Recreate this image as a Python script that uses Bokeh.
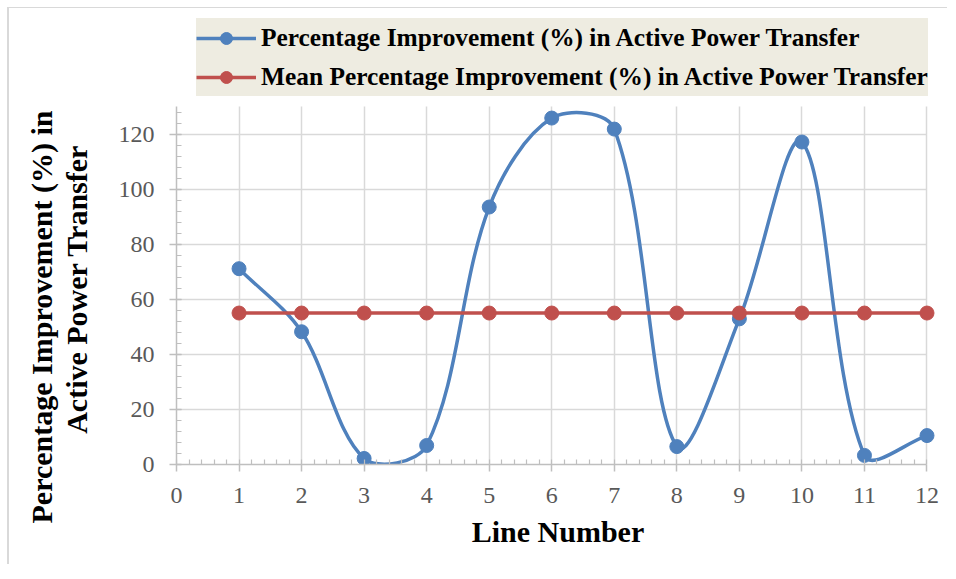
import math
import numpy as np
from bokeh.plotting import figure
from bokeh.models import Range1d, SingleIntervalTicker, Legend, LegendItem, Title
from bokeh.embed import file_html
from bokeh.resources import INLINE

# ---------------- data ----------------
line_numbers = [1, 2, 3, 4, 5, 6, 7, 8, 9, 10, 11, 12]
improvement = [71.1, 48.2, 2.2, 6.9, 93.5, 125.8, 121.8, 6.5, 52.9, 117.1, 3.3, 10.5]
mean_improvement = [55.0, 55.0, 55.0, 55.0, 55.0, 55.0, 55.0, 55.0, 55.0, 55.0, 55.0, 55.0]
series_labels = ["Percentage Improvement (%) in Active Power Transfer",
                 "Mean Percentage Improvement (%) in Active Power Transfer"]
x_title = "Line Number"
y_title_lines = ["Percentage Improvement (%) in", "Active Power Transfer"]

# ---------------- style ----------------
BLUE = "#4f81bd"
RED = "#c0504d"
AXIS_C = "#bfbfbf"
GRID_C = "#d9d9d9"
FONT = "Liberation Serif"
X_END = 12.2
Y_AX_END = 130
PX_PER_Y = 358 / 130
FH = 450
Y_END = FH / PX_PER_Y          # frame extends above the axis to hold the legend
FW = 763

p = figure(frame_width=FW, frame_height=FH,
           x_range=Range1d(0, X_END), y_range=Range1d(0, Y_END),
           output_backend="svg", toolbar_location=None,
           min_border_left=167, min_border_top=6, min_border_right=8,
           min_border_bottom=100,
           background_fill_color="white", border_fill_color="white")
p.margin = (7, 0, 0, 7)
p.styles = {"border-left": "2px solid #d9d9d9", "border-top": "1px solid #d9d9d9"}
p.outline_line_color = None

xt = SingleIntervalTicker(interval=1, num_minor_ticks=5)
yt = SingleIntervalTicker(interval=20, num_minor_ticks=5)
xa = p.xaxis[0]
ya = p.yaxis[0]
xa.ticker = xt
ya.ticker = yt
p.xgrid[0].ticker = xt
p.ygrid[0].ticker = yt
xa.bounds = (0, 12)
ya.bounds = (0, Y_AX_END)
p.ygrid[0].bounds = (0, Y_AX_END)
p.xgrid[0].bounds = (0, 12)
for g in (p.xgrid[0], p.ygrid[0]):
    g.grid_line_color = GRID_C
    g.grid_line_width = 1.5
p.ygrid[0].cross_bounds = (0, 12)
p.xgrid[0].cross_bounds = (0, Y_AX_END)

for ax in (xa, ya):
    ax.axis_line_color = AXIS_C
    ax.axis_line_width = 1.5
    ax.major_tick_line_color = AXIS_C
    ax.major_tick_line_width = 1.5
    ax.minor_tick_line_color = AXIS_C
    ax.minor_tick_line_width = 1.2
    ax.major_tick_out = 7
    ax.minor_tick_out = 0
    ax.minor_tick_in = 5
    ax.major_label_text_font = FONT
    ax.major_label_text_font_size = "24px"
    ax.major_label_text_color = "#595959"
    ax.axis_label_text_font = FONT
    ax.axis_label_text_font_size = "30px"
    ax.axis_label_text_font_style = "bold"
    ax.axis_label_text_color = "black"
xa.major_tick_in = 0
ya.major_tick_in = 5
xa.major_label_standoff = 16
ya.major_label_standoff = 15
xa.axis_label = x_title
xa.axis_label_standoff = 9
# tiny spacer label to set the distance of the title from the tick labels
ya.axis_label = " "
ya.axis_label_text_font_size = "1px"
ya.axis_label_standoff = 19

# y title: two lines, each its own title (closest to the axis added first)
t2 = Title(text=y_title_lines[1], align="right", offset=130, vertical_align="bottom",
           text_font=FONT, text_font_size="30px", text_font_style="bold",
           text_color="black", standoff=0, text_line_height=1.07)
t1 = Title(text=y_title_lines[0], align="right", offset=96, vertical_align="bottom",
           text_font=FONT, text_font_size="30px", text_font_style="bold",
           text_color="black", standoff=0, text_line_height=1.07)
p.add_layout(t2, "left")
p.add_layout(t1, "left")

# ---------------- smoothed (Excel-like) curve ----------------
sx = FW / X_END
sy = PX_PER_Y
PX = np.array(line_numbers, float) * sx
PY = np.array(improvement, float) * sy
n = len(PX)
bx0, by0, bx1, by1, bcx0, bcy0, bcx1, bcy1 = ([] for _ in range(8))
for i in range(n - 1):
    a = max(i - 1, 0)
    d = min(i + 2, n - 1)
    d01 = math.hypot(PX[i] - PX[a], PY[i] - PY[a])
    d12 = math.hypot(PX[i + 1] - PX[i], PY[i + 1] - PY[i])
    d23 = math.hypot(PX[d] - PX[i + 1], PY[d] - PY[i + 1])
    f1 = d12 / (d01 + d12) / 3.0
    f2 = d12 / (d12 + d23) / 3.0
    c1x = PX[i] + (PX[i + 1] - PX[a]) * f1
    c1y = PY[i] + (PY[i + 1] - PY[a]) * f1
    c2x = PX[i + 1] - (PX[d] - PX[i]) * f2
    c2y = PY[i + 1] - (PY[d] - PY[i]) * f2
    bx0.append(PX[i] / sx); by0.append(PY[i] / sy)
    bx1.append(PX[i + 1] / sx); by1.append(PY[i + 1] / sy)
    bcx0.append(c1x / sx); bcy0.append(c1y / sy)
    bcx1.append(c2x / sx); bcy1.append(c2y / sy)

p.bezier(x0=bx0, y0=by0, x1=bx1, y1=by1, cx0=bcx0, cy0=bcy0, cx1=bcx1, cy1=bcy1,
         line_color=BLUE, line_width=3.5, line_cap="round")
blue_leg_line = p.line(line_numbers, improvement, line_color=BLUE, line_width=3.5,
                       visible=False)
blue_pts = p.scatter(line_numbers, improvement, marker="circle", size=14,
                     fill_color=BLUE, line_color=BLUE)
red_line = p.line(line_numbers, mean_improvement, line_color=RED, line_width=3.5)
red_pts = p.scatter(line_numbers, mean_improvement, marker="circle", size=14,
                    fill_color=RED, line_color=RED)

legend = Legend(items=[LegendItem(label=series_labels[0], renderers=[blue_leg_line, blue_pts]),
                       LegendItem(label=series_labels[1], renderers=[red_line, red_pts])],
                location=(20, 368))
legend.background_fill_color = "#eeece1"
legend.background_fill_alpha = 1.0
legend.border_line_color = None
legend.padding = 14
legend.spacing = 0
legend.glyph_width = 60
legend.glyph_height = 30
legend.label_height = 39
legend.label_standoff = 5
legend.label_text_font = FONT
legend.label_text_font_size = "25.4px"
legend.label_text_font_style = "bold"
legend.label_text_color = "black"
p.add_layout(legend, "center")

open("out.html", "w").write(file_html(p, INLINE))
